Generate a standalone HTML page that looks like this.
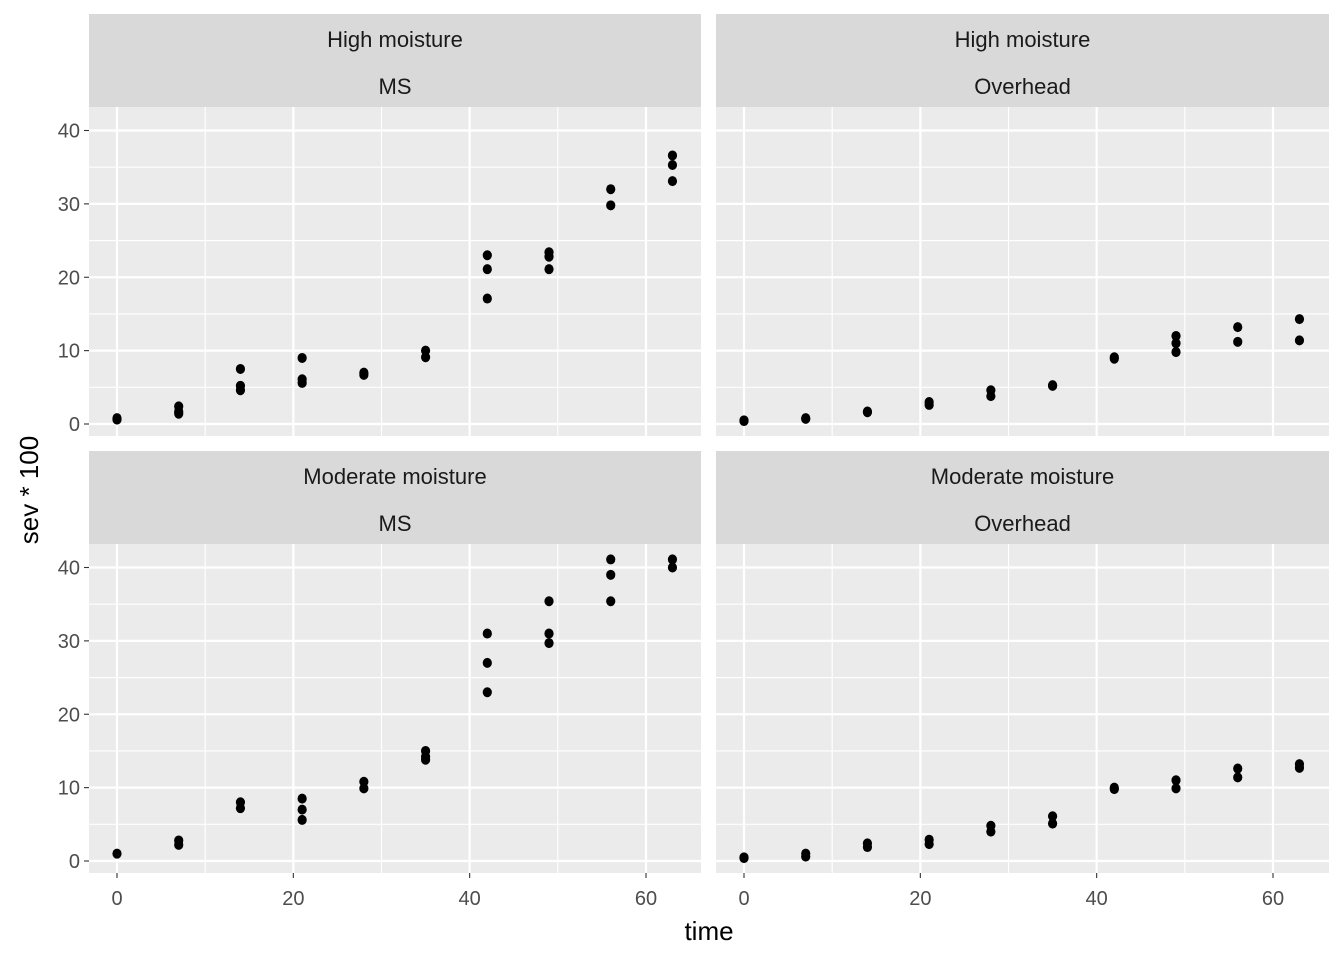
<!DOCTYPE html>
<html><head><meta charset="utf-8"><style>
body{margin:0;background:#fff;}
svg{display:block;font-family:"Liberation Sans",Arial,sans-serif;}
</style></head><body>
<svg id="chart" width="1344" height="960"></svg>
<script>
const days = [0,7,14,21,28,35,42,49,56,63];
const panelTitles1 = ["High moisture","High moisture","Moderate moisture","Moderate moisture"];
const panelTitles2 = ["MS","Overhead","MS","Overhead"];
const xTicks = [0,20,40,60];
const yTicks = [0,10,20,30,40];
const sevHighMS = [[0.8,0.6],[2.4,1.7,1.4],[7.5,5.2,4.6],[9.0,6.1,5.6],[7.0,6.7],[10.0,9.1],[23,21.1,17.1],[23.4,22.8,21.1],[32,29.8],[36.6,35.3,33.1]];
const sevHighOH = [[0.5,0.4],[0.7,0.8],[1.7,1.6],[3.0,2.6],[4.6,3.8],[5.3,5.2],[9.1,8.9],[12,11,9.8],[13.2,11.2],[14.3,11.4]];
const sevModMS = [[1.0],[2.8,2.2],[8.0,7.2],[8.5,7.0,5.6],[10.8,9.9],[15,14.2,13.8],[31,27,23],[35.4,31,29.7],[41.1,39,35.4],[41.1,40]];
const sevModOH = [[0.5,0.4],[1.0,0.6],[2.4,1.9],[2.9,2.3],[4.8,4.0],[6.1,5.1],[10,9.8],[11,9.9],[12.6,11.4],[13.2,12.7]];
const series = [sevHighMS,sevHighOH,sevModMS,sevModOH];

const NS="http://www.w3.org/2000/svg";
const svg=document.getElementById('chart');
function mk(tag,attrs,parent){const e=document.createElementNS(NS,tag);for(const k in attrs)e.setAttribute(k,attrs[k]);(parent||svg).appendChild(e);return e;}
const panels=[{x0:89,x1:701,s0:14,y0:107,y1:436},{x0:716,x1:1329,s0:14,y0:107,y1:436},{x0:89,x1:701,s0:451,y0:544,y1:873},{x0:716,x1:1329,s0:451,y0:544,y1:873}];
panels.forEach((p,i)=>{
  const zeroX=p.x0+28, pxPerX=(646-117)/60;
  const zeroY=p.y1-12, pxPerY=(424-130.5)/40;
  const xs=v=>zeroX+v*pxPerX, ys=v=>zeroY-v*pxPerY;
  const g=mk('g',{});
  
  
  const strip=mk('rect',{x:p.x0,y:p.s0,width:p.x1-p.x0,height:p.y0-p.s0,fill:'#d9d9d9'},g);
  
  
  const t1=mk('text',{x:(p.x0+p.x1)/2,y:p.s0+33,'text-anchor':'middle','font-size':22,fill:'#1a1a1a'},g);t1.textContent=panelTitles1[i];
  
  
  const t2=mk('text',{x:(p.x0+p.x1)/2,y:p.s0+80,'text-anchor':'middle','font-size':22,fill:'#1a1a1a'},g);t2.textContent=panelTitles2[i];
  
  
  const bg=mk('rect',{x:p.x0,y:p.y0,width:p.x1-p.x0,height:p.y1-p.y0,fill:'#ebebeb'},g);
  
  
  for(let k=0;k<4;k++){const v=yTicks[k]+5;mk('line',{x1:p.x0,x2:p.x1,y1:ys(v),y2:ys(v),stroke:'#fff','stroke-width':1.1},g);}
  for(let k=0;k<4;k++){const v=xTicks[k]+10;mk('line',{x1:xs(v),x2:xs(v),y1:p.y0,y2:p.y1,stroke:'#fff','stroke-width':1.1},g);}
  yTicks.forEach(v=>{mk('line',{x1:p.x0,x2:p.x1,y1:ys(v),y2:ys(v),stroke:'#fff','stroke-width':2.2},g);});
  xTicks.forEach(v=>{mk('line',{x1:xs(v),x2:xs(v),y1:p.y0,y2:p.y1,stroke:'#fff','stroke-width':2.2},g);});
  if(i%2===0){yTicks.forEach(v=>{
    mk('line',{x1:p.x0-5,x2:p.x0,y1:ys(v),y2:ys(v),stroke:'#333','stroke-width':1.1},g);
    const t=mk('text',{x:p.x0-9,y:ys(v)+7,'text-anchor':'end','font-size':20,fill:'#4d4d4d'},g);t.textContent=v;
    
    
  });}
  if(i>=2){xTicks.forEach(v=>{
    mk('line',{x1:xs(v),x2:xs(v),y1:p.y1,y2:p.y1+5,stroke:'#333','stroke-width':1.1},g);
    const t=mk('text',{x:xs(v),y:p.y1+32,'text-anchor':'middle','font-size':20,fill:'#4d4d4d'},g);t.textContent=v;
    
    
  });}
  series[i].forEach((vals,d)=>{vals.forEach(v=>{
    const c=mk('ellipse',{cx:xs(days[d]),cy:ys(v),rx:4.6,ry:5,fill:'#000'},g);
    
    
  });});
});
const xt=mk('text',{x:709,y:940,'text-anchor':'middle','font-size':26,fill:'#000'});xt.textContent='time';


const yt=mk('text',{x:0,y:0,'text-anchor':'middle','font-size':26,fill:'#000',transform:'translate(38,490) rotate(-90)'});yt.textContent='sev * 100';


</script>
</body></html>
